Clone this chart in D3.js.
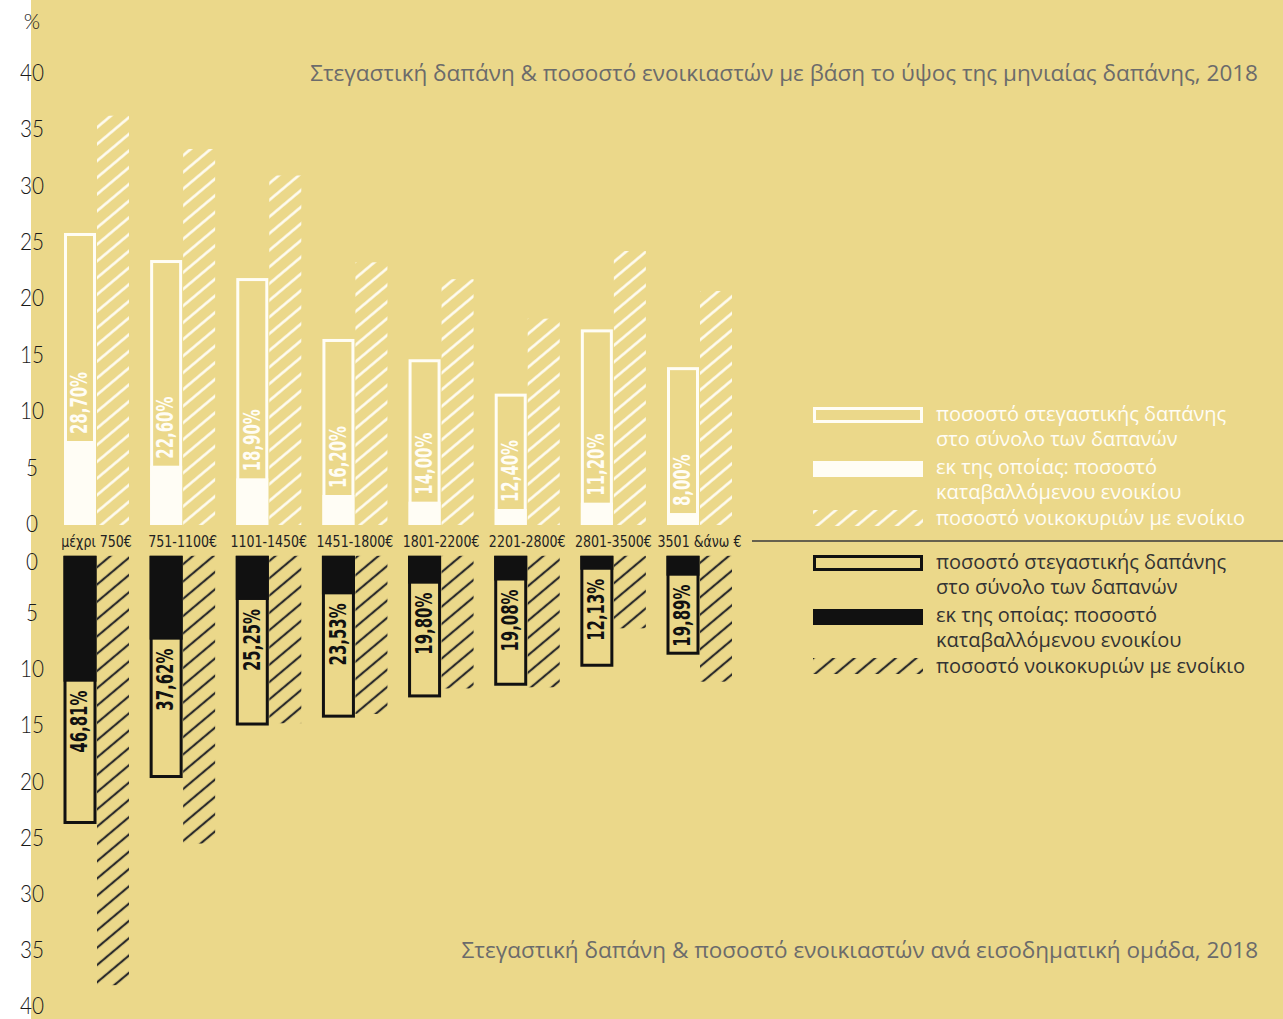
<!DOCTYPE html>
<html><head><meta charset="utf-8">
<script src="https://cdn.jsdelivr.net/npm/d3@7"></script>
<style>
html,body{margin:0;padding:0;background:#fff;}
svg{display:block;}
</style></head>
<body>
<svg id="chart" width="1283" height="1019"></svg>
<script>
// ---------- data ----------
const categories = ["μέχρι 750€","751-1100€","1101-1450€","1451-1800€","1801-2200€","2201-2800€","2801-3500€","3501 &άνω €"];
// top panel: by monthly expenditure level
const topHousingShare = [25.9, 23.5, 21.9, 16.5, 14.7, 11.65, 17.35, 14.0];
const topRentShare    = [7.45, 5.26, 4.14, 2.66, 2.07, 1.42, 1.98, 1.06];
const topRenters      = [36.3, 33.35, 31.0, 23.3, 21.8, 18.3, 24.3, 20.75];
const topLabels       = ["28,70%","22,60%","18,90%","16,20%","14,00%","12,40%","11,20%","8,00%"];
// bottom panel: by income group
const botHousingShare = [23.86, 19.77, 15.1, 14.4, 12.6, 11.56, 9.87, 8.8];
const botRentShare    = [11.2, 7.46, 3.93, 3.43, 2.48, 2.2, 1.24, 1.77];
const botRenters      = [38.2, 25.6, 14.9, 14.07, 11.8, 11.7, 6.45, 11.2];
const botLabels       = ["46,81%","37,62%","25,25%","23,53%","19,80%","19,08%","12,13%","19,89%"];
const tickValues = [0,5,10,15,20,25,30,35,40];
const unitLabel = "%";
const titleTop = "Στεγαστική δαπάνη & ποσοστό ενοικιαστών με βάση το ύψος της μηνιαίας δαπάνης, 2018";
const titleBottom = "Στεγαστική δαπάνη & ποσοστό ενοικιαστών ανά εισοδηματική ομάδα, 2018";
const legendLines = [
  ["ποσοστό στεγαστικής δαπάνης","στο σύνολο των δαπανών"],
  ["εκ της οποίας: ποσοστό","καταβαλλόμενου ενοικίου"],
  ["ποσοστό νοικοκυριών με ενοίκιο"]
];

// ---------- styles ----------
const BG = "#ebd88a", WHITE = "#fffdf5", DARK = "#111", HATCH_DARK = "#2b2b2b";
const narrow = "'DejaVu Sans Condensed','DejaVu Sans',sans-serif";
const light = "'Lato','DejaVu Sans Condensed',sans-serif";
const regular = "'Open Sans','Noto Sans',sans-serif";

const svg = d3.select("#chart");
svg.append("rect").attr("x",31).attr("y",0).attr("width",1283-31).attr("height",1019).attr("fill",BG);

const defs = svg.append("defs");
function hatch(id, color, spacing, sw){
  const p = defs.append("pattern").attr("id",id).attr("patternUnits","userSpaceOnUse")
    .attr("width",10).attr("height",spacing).attr("patternTransform","rotate(-40)");
  p.append("rect").attr("width",10).attr("height",spacing).attr("fill",BG);
  p.append("line").attr("x1",-1).attr("x2",11).attr("y1",spacing/2).attr("y2",spacing/2)
    .attr("stroke",color).attr("stroke-width",sw);
}
hatch("hatchW", WHITE, 12.8, 2.5);
hatch("hatchD", HATCH_DARK, 13.25, 2.2);

// ---------- scales ----------
const x = d3.scalePoint().domain(categories).range([96.5, 699.5]);
const yTop = d3.scaleLinear().domain([0,40]).range([525, 74]);
const yBot = d3.scaleLinear().domain([0,40]).range([555.8, 1005.4]);
const BW = 32, SW = 3;

// ---------- axis labels ----------
svg.append("text").attr("transform","translate(32,20)").attr("text-anchor","middle").attr("dominant-baseline","central")
  .attr("font-family",light).attr("font-weight",300).attr("font-size",21).attr("fill","#222").text(unitLabel);
svg.append("g").selectAll("text").data(tickValues).join("text")
  .attr("transform",d=>`translate(32,${yTop(d)-2}) scale(0.9,1)`).attr("text-anchor","middle").attr("dominant-baseline","central")
  .attr("font-family",light).attr("font-weight",300).attr("font-size",23).attr("fill","#1a1a1a").text(d=>d);
svg.append("g").selectAll("text").data(tickValues).join("text")
  .attr("transform",d=>`translate(32,${d===0? yBot(d)+5 : yBot(d)}) scale(0.9,1)`).attr("text-anchor","middle").attr("dominant-baseline","central")
  .attr("font-family",light).attr("font-weight",300).attr("font-size",23).attr("fill","#1a1a1a").text(d=>d);

// ---------- top panel ----------
const gTop = svg.append("g");
const topData = categories.map((c,i)=>({c, h:topHousingShare[i], r:topRentShare[i], n:topRenters[i], l:topLabels[i]}));
gTop.selectAll(".hatch").data(topData).join("rect")
  .attr("x",d=>x(d.c)+0.5).attr("width",BW).attr("y",d=>yTop(d.n)).attr("height",d=>yTop(0)-yTop(d.n))
  .attr("fill","url(#hatchW)");
gTop.selectAll(".outline").data(topData).join("rect")
  .attr("x",d=>x(d.c)-BW-0.5+SW/2).attr("width",BW-SW).attr("y",d=>yTop(d.h)+SW/2).attr("height",d=>yTop(0)-yTop(d.h)-SW)
  .attr("fill","none").attr("stroke",WHITE).attr("stroke-width",SW);
gTop.selectAll(".fill").data(topData).join("rect")
  .attr("x",d=>x(d.c)-BW-0.5).attr("width",BW).attr("y",d=>yTop(d.r)).attr("height",d=>yTop(0)-yTop(d.r))
  .attr("fill",WHITE);
gTop.selectAll(".lab").data(topData).join("text")
  .attr("transform",d=>`translate(${x(d.c)-BW/2-1.5},${yTop(d.r)-7}) rotate(-90) scale(0.72,1)`)
  .attr("dy","0.36em").attr("text-anchor","start")
  .attr("font-family",narrow).attr("font-weight","bold").attr("font-size",23).attr("fill",WHITE).text(d=>d.l);

// ---------- category labels ----------
svg.append("g").selectAll("text").data(categories).join("text")
  .attr("transform",d=>`translate(${x(d)},542) scale(0.85,1)`).attr("text-anchor","middle").attr("dominant-baseline","central")
  .attr("font-family",narrow).attr("font-size",16.5).attr("fill","#222").text(d=>d);

// separator
svg.append("line").attr("x1",752).attr("x2",1283).attr("y1",541).attr("y2",541).attr("stroke","#3a3a3a").attr("stroke-width",1.5);

// ---------- bottom panel ----------
const gBot = svg.append("g");
const botData = categories.map((c,i)=>({c, h:botHousingShare[i], r:botRentShare[i], n:botRenters[i], l:botLabels[i]}));
gBot.selectAll(".hatch").data(botData).join("rect")
  .attr("x",d=>x(d.c)+0.5).attr("width",BW).attr("y",yBot(0)).attr("height",d=>yBot(d.n)-yBot(0))
  .attr("fill","url(#hatchD)");
gBot.selectAll(".outline").data(botData).join("rect")
  .attr("x",d=>x(d.c)-BW-1+SW/2).attr("width",BW+1-SW).attr("y",yBot(0)+SW/2).attr("height",d=>yBot(d.h)-yBot(0)-SW)
  .attr("fill","none").attr("stroke",DARK).attr("stroke-width",SW);
gBot.selectAll(".fill").data(botData).join("rect")
  .attr("x",d=>x(d.c)-BW-1).attr("width",BW+1).attr("y",yBot(0)).attr("height",d=>yBot(d.r)-yBot(0))
  .attr("fill",DARK);
gBot.selectAll(".lab").data(botData).join("text")
  .attr("transform",d=>`translate(${x(d.c)-BW/2-1.5},${yBot(d.r)+9}) rotate(-90) scale(0.72,1)`)
  .attr("dy","0.36em").attr("text-anchor","end")
  .attr("font-family",narrow).attr("font-weight","bold").attr("font-size",23).attr("fill",DARK).text(d=>d.l);

// ---------- titles ----------
svg.append("text").attr("x",1258).attr("y",72).attr("text-anchor","end").attr("dominant-baseline","central")
  .attr("font-family",regular).attr("font-size",22.5).attr("fill","#6b6b6b").text(titleTop);
svg.append("text").attr("x",1258).attr("y",949).attr("text-anchor","end").attr("dominant-baseline","central")
  .attr("font-family",regular).attr("font-size",22.5).attr("fill","#6b6b6b").text(titleBottom);

// ---------- legends ----------
function legend(g, color, textColor, hatchId, y0, outlineFill){
  const rows = [
    {y:y0, type:"outline", ty:y0+6, gap:25},
    {y:y0+54, type:"fill", ty:y0+59, gap:25.5},
    {y:y0+103, type:"hatch", ty:y0+110.5, gap:25}
  ];
  rows.forEach((r,i)=>{
    if(r.type==="outline"){
      g.append("rect").attr("x",813+SW/2).attr("y",r.y+SW/2).attr("width",110-SW).attr("height",16-SW)
        .attr("fill",outlineFill).attr("stroke",color).attr("stroke-width",SW);
    } else if(r.type==="fill"){
      g.append("rect").attr("x",813).attr("y",r.y).attr("width",110).attr("height",16).attr("fill",color);
    } else {
      g.append("rect").attr("x",813).attr("y",r.y).attr("width",110).attr("height",16).attr("fill",`url(#${hatchId})`);
    }
    const t = g.append("text").attr("font-family",regular).attr("font-size",20).attr("fill",textColor);
    legendLines[i].forEach((s,j)=>{
      t.append("tspan").attr("x",936).attr("y",r.ty + j*r.gap).attr("dominant-baseline","central").text(s);
    });
  });
}
legend(svg.append("g"), WHITE, WHITE, "hatchW", 407, "none");
legend(svg.append("g"), DARK, "#333", "hatchD", 555, BG);
</script>
</body></html>
